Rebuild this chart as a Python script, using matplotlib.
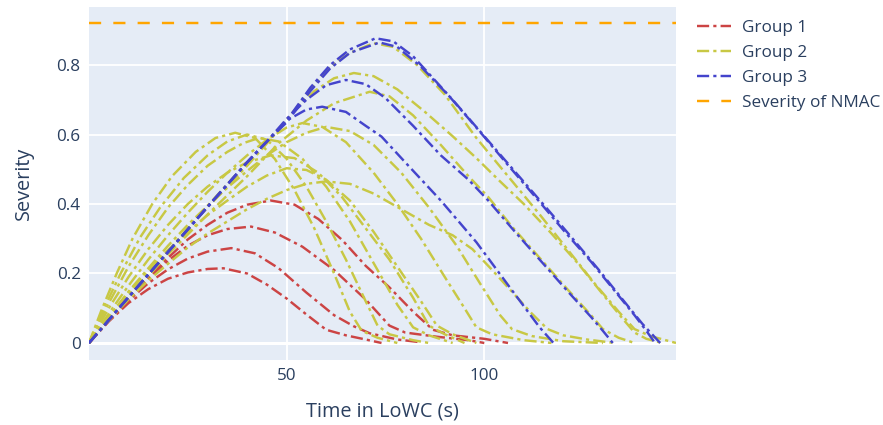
import matplotlib
matplotlib.use("Agg")
import matplotlib.pyplot as plt

plt.rcParams['font.family'] = ['Open Sans', 'DejaVu Sans']

# time (s) and severity for each run
group1_t = [
    [0, 5, 10, 15, 20, 25, 30, 34, 40, 45, 50, 55, 60, 65, 70, 74],
    [0, 5, 10, 15, 20, 25, 30, 36, 42, 48, 55, 62, 67, 71, 78, 84],
    [0, 5, 10, 15, 20, 25, 30, 35, 41, 47, 54, 62, 70, 76, 80, 88, 96, 100],
    [0, 5, 10, 15, 20, 25, 30, 35, 40, 46, 52, 58, 64, 70, 76, 82, 87, 92, 100, 106],
]
group1_s = [
    [0, 0.062, 0.115, 0.155, 0.185, 0.203, 0.213, 0.215, 0.2, 0.168, 0.128, 0.082, 0.038, 0.022, 0.01, 0],
    [0, 0.064, 0.122, 0.172, 0.212, 0.243, 0.263, 0.273, 0.258, 0.215, 0.145, 0.08, 0.048, 0.028, 0.01, 0.002],
    [0, 0.065, 0.127, 0.185, 0.237, 0.28, 0.31, 0.328, 0.335, 0.318, 0.277, 0.21, 0.125, 0.05, 0.03, 0.018, 0.008, 0],
    [0, 0.065, 0.13, 0.19, 0.245, 0.298, 0.34, 0.375, 0.398, 0.41, 0.398, 0.357, 0.297, 0.222, 0.16, 0.09, 0.038, 0.022, 0.012, 0],
]

group2_t = [
    [0, 3, 7, 11, 16, 21, 27, 32, 37, 42, 47, 52, 57, 62, 66, 69, 73, 78],
    [0, 4, 8, 13, 18, 24, 30, 35, 40, 45, 50, 55, 60, 65, 70, 73, 76, 82, 86],
    [0, 5, 10, 15, 20, 25, 30, 35, 39, 43, 48, 54, 60, 66, 72, 78, 82, 86, 92],
    [0, 5, 10, 15, 20, 25, 30, 35, 40, 46, 52, 58, 64, 70, 76, 82, 86, 90, 95],
    [0, 5, 10, 15, 20, 25, 30, 35, 40, 45, 50, 54, 59, 65, 72, 78, 84, 90, 95, 98, 102, 110, 117],
    [0, 5, 10, 15, 20, 25, 30, 35, 40, 45, 50, 55, 60, 66, 72, 79, 86, 93, 99, 104, 107, 112, 120, 130],
    [0, 5, 10, 15, 20, 25, 30, 35, 40, 45, 50, 55, 60, 66, 72, 78, 84, 88, 92, 98],
    [0, 5, 10, 15, 20, 25, 30, 35, 40, 45, 50, 55, 60, 66, 72, 79, 86, 92, 97, 102, 106, 112, 116, 120, 126, 133],
    [0, 10, 20, 30, 40, 48, 55, 62, 71, 76, 82, 89, 96, 101, 107, 114, 121, 127, 130, 134, 138],
    [0, 10, 20, 30, 40, 47, 52, 57, 62, 67, 72, 78, 85, 92, 98, 104, 110, 117, 124, 130, 135, 138, 141, 145],
    [0, 10, 20, 30, 40, 45, 50, 56, 61, 66, 72, 77, 83, 90, 98, 106, 114, 121, 128, 134, 138, 142, 148.5],
]
group2_s = [
    [0, 0.09, 0.2, 0.3, 0.4, 0.48, 0.55, 0.59, 0.605, 0.59, 0.53, 0.44, 0.33, 0.2, 0.09, 0.035, 0.015, 0],
    [0, 0.105, 0.2, 0.305, 0.39, 0.475, 0.54, 0.58, 0.6, 0.585, 0.53, 0.45, 0.35, 0.24, 0.12, 0.05, 0.025, 0.008, 0],
    [0, 0.115, 0.22, 0.31, 0.39, 0.455, 0.51, 0.55, 0.575, 0.59, 0.58, 0.53, 0.45, 0.35, 0.23, 0.11, 0.045, 0.022, 0],
    [0, 0.1, 0.19, 0.27, 0.34, 0.4, 0.45, 0.49, 0.52, 0.54, 0.532, 0.49, 0.42, 0.33, 0.24, 0.13, 0.05, 0.025, 0],
    [0, 0.085, 0.165, 0.24, 0.31, 0.375, 0.435, 0.49, 0.54, 0.585, 0.62, 0.633, 0.622, 0.578, 0.49, 0.4, 0.3, 0.19, 0.1, 0.045, 0.025, 0.008, 0],
    [0, 0.075, 0.148, 0.215, 0.28, 0.34, 0.395, 0.447, 0.495, 0.54, 0.578, 0.605, 0.622, 0.61, 0.57, 0.49, 0.39, 0.28, 0.17, 0.08, 0.04, 0.02, 0.005, 0],
    [0, 0.075, 0.145, 0.21, 0.268, 0.32, 0.368, 0.41, 0.45, 0.482, 0.503, 0.498, 0.47, 0.41, 0.32, 0.22, 0.12, 0.05, 0.025, 0],
    [0, 0.065, 0.125, 0.18, 0.228, 0.275, 0.315, 0.35, 0.385, 0.415, 0.44, 0.458, 0.465, 0.458, 0.43, 0.385, 0.34, 0.31, 0.27, 0.21, 0.16, 0.085, 0.04, 0.022, 0.01, 0],
    [0, 0.13, 0.255, 0.37, 0.48, 0.575, 0.64, 0.69, 0.723, 0.71, 0.655, 0.57, 0.48, 0.42, 0.335, 0.245, 0.155, 0.08, 0.04, 0.015, 0],
    [0, 0.135, 0.265, 0.39, 0.51, 0.6, 0.67, 0.725, 0.762, 0.777, 0.768, 0.73, 0.665, 0.595, 0.532, 0.465, 0.4, 0.315, 0.225, 0.14, 0.07, 0.03, 0.012, 0],
    [0, 0.135, 0.265, 0.395, 0.52, 0.58, 0.64, 0.73, 0.795, 0.835, 0.863, 0.852, 0.8, 0.715, 0.59, 0.48, 0.37, 0.27, 0.17, 0.09, 0.04, 0.02, 0],
]

group3_t = [
    [0, 5, 10, 15, 20, 25, 30, 35, 40, 45, 50, 56, 61, 66, 72.5, 77, 82, 90, 98, 106, 113.7, 120, 127, 133, 138, 141, 143.2],
    [0, 5, 10, 15, 20, 25, 30, 35, 40, 45, 50, 56, 61, 66, 73.5, 78, 84, 92, 100, 108, 116, 122, 129, 135, 140, 144.5],
    [0, 5, 10, 15, 20, 25, 30, 35, 40, 45, 50, 55, 60, 65, 70, 75, 82, 89, 96, 101, 107, 114, 121, 127, 130, 132.5],
    [0, 5, 10, 15, 20, 25, 30, 35, 40, 45, 50, 55, 59, 65, 70, 74, 80, 89, 98, 106, 114, 117.5],
]
group3_s = [
    [0, 0.066, 0.132, 0.197, 0.262, 0.327, 0.392, 0.456, 0.52, 0.58, 0.64, 0.735, 0.8, 0.845, 0.877, 0.868, 0.825, 0.725, 0.62, 0.512, 0.41, 0.325, 0.234, 0.15, 0.08, 0.035, 0],
    [0, 0.066, 0.132, 0.197, 0.262, 0.327, 0.392, 0.456, 0.52, 0.58, 0.635, 0.725, 0.79, 0.835, 0.865, 0.852, 0.795, 0.7, 0.595, 0.49, 0.385, 0.305, 0.21, 0.125, 0.055, 0],
    [0, 0.066, 0.132, 0.197, 0.262, 0.327, 0.392, 0.456, 0.52, 0.58, 0.645, 0.7, 0.742, 0.757, 0.745, 0.705, 0.625, 0.54, 0.47, 0.41, 0.33, 0.24, 0.15, 0.075, 0.035, 0],
    [0, 0.066, 0.132, 0.197, 0.262, 0.327, 0.392, 0.456, 0.52, 0.58, 0.64, 0.672, 0.68, 0.665, 0.625, 0.594, 0.52, 0.41, 0.29, 0.167, 0.045, 0],
]

nmac_t = [0, 148.5]
nmac_s = [0.92, 0.92]

group_names = ["Group 1", "Group 2", "Group 3"]
group_colors = ["#CC4444", "#C8C844", "#4444CC"]

fig = plt.figure(figsize=(8.83, 4.25), dpi=100)
ax = fig.add_axes([89/883, 65/425, 587/883, 353/425])
ax.set_facecolor("#E5ECF6")

dd = (5.0, 1.7, 1.3, 1.7)
for name, color, ts, ss in zip(group_names, group_colors,
                               [group1_t, group2_t, group3_t],
                               [group1_s, group2_s, group3_s]):
    for i in range(len(ts)):
        ax.plot(ts[i], ss[i], color=color, lw=1.75, dashes=dd,
                label=name if i == 0 else None, zorder=3)

ax.plot(nmac_t, nmac_s, color="#FFA500", lw=1.75, dashes=(5.0, 5.0),
        label="Severity of NMAC", zorder=3)

ax.set_xlim(0, 148.5)
ax.set_ylim(-0.049, 0.967)
ax.set_xticks([50, 100])
ax.set_yticks([0, 0.2, 0.4, 0.6, 0.8])
ax.set_yticklabels(["0", "0.2", "0.4", "0.6", "0.8"])
ax.grid(True, color="white", lw=1.3)
ax.axhline(0, color="white", lw=2.2, zorder=1)
ax.set_axisbelow(True)
for sp in ax.spines.values():
    sp.set_visible(False)
ax.tick_params(length=0, labelsize=12.3, colors="#2a3f5f", pad=6)

ax.set_xlabel("Time in LoWC (s)", fontsize=14.3, color="#2a3f5f", labelpad=12)
ax.set_ylabel("Severity", fontsize=14.3, color="#2a3f5f", labelpad=16)

ax.legend(loc="upper left", bbox_to_anchor=(1.01, 1.007), frameon=False,
          fontsize=12.3, handlelength=2.0, handletextpad=0.6,
          labelspacing=0.52, labelcolor="#2a3f5f")

fig.savefig("out.png", dpi=100)
